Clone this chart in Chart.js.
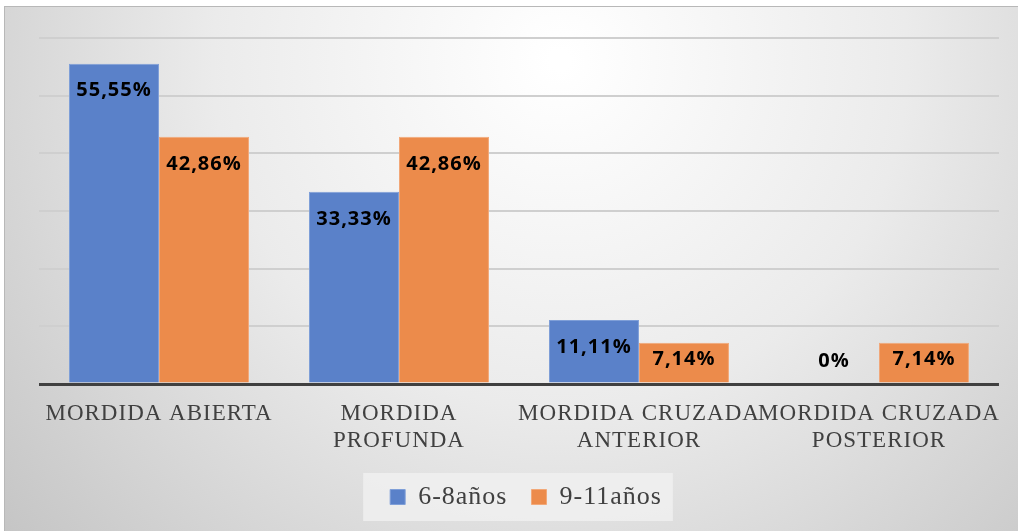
<!DOCTYPE html>
<html>
<head>
<meta charset="utf-8">
<script src="https://cdn.jsdelivr.net/npm/chart.js@4/dist/chart.umd.min.js"></script>
<style>
  html, body { margin: 0; padding: 0; background: #fff; }
  #wrap { width: 1018px; height: 531px; }
</style>
</head>
<body>
<div id="wrap"><canvas id="myBarChart" width="1018" height="531"></canvas></div>
<script>
var categories = [['MORDIDA ABIERTA'], ['MORDIDA', 'PROFUNDA'], ['MORDIDA CRUZADA', 'ANTERIOR'], ['MORDIDA CRUZADA', 'POSTERIOR']];
var seriesNames = ['6-8años', '9-11años'];
var young = [55.55, 33.33, 11.11, 0];
var older = [42.86, 42.86, 7.14, 7.14];
var yTicks = [0, 10, 20, 30, 40, 50, 60];

function fmt(v) {
  if (v === 0) return '0%';
  return v.toFixed(2).replace('.', ',') + '%';
}

// the original text looks a bit stretched, widen it a little
var spacing = {
  id: 'spacing',
  beforeLayout: function(chart) { chart.ctx.letterSpacing = '1px'; },
  beforeDraw: function(chart) { chart.ctx.letterSpacing = '1px'; },
  afterLayout: function(chart) {
    // legend sits a bit right of centre in the original
    var lg = chart.legend;
    lg.left += 6;
    lg.right += 6;
    lg.legendHitBoxes.forEach(function(b) { b.left += 6; });
  }
};

// gray gradient backdrop + legend box
var backdrop = {
  id: 'backdrop',
  beforeDraw: function(chart) {
    var ctx = chart.ctx;
    ctx.save();
    ctx.fillStyle = '#ffffff';
    ctx.fillRect(0, 0, chart.width, chart.height);
    var g = ctx.createRadialGradient(560, 60, 10, 560, 60, 760);
    g.addColorStop(0, '#ffffff');
    g.addColorStop(0.45, '#ebebeb');
    g.addColorStop(1, '#c2c2c2');
    ctx.fillStyle = g;
    ctx.fillRect(5, 7, chart.width - 5, chart.height - 7);
    ctx.strokeStyle = '#b8b8b8';
    ctx.lineWidth = 1;
    ctx.strokeRect(4.5, 6.5, chart.width, chart.height);
    var boxes = chart.legend.legendHitBoxes;
    if (boxes && boxes.length) {
      var first = boxes[0], last = boxes[boxes.length - 1];
      var cy = first.top + first.height / 2;
      ctx.fillStyle = 'rgba(240,240,240,0.85)';
      ctx.fillRect(first.left - 27, cy - 24, last.left + last.width - first.left + 38, 48);
    }
    ctx.restore();
  }
};

// value labels inside bar ends
var barLabels = {
  id: 'barLabels',
  afterDatasetsDraw: function(chart) {
    var ctx = chart.ctx;
    ctx.save();
    ctx.letterSpacing = '1px';
    ctx.font = 'bold 20px "Open Sans"';
    ctx.fillStyle = '#000';
    ctx.textAlign = 'center';
    ctx.textBaseline = 'middle';
    chart.data.datasets.forEach(function(ds, i) {
      chart.getDatasetMeta(i).data.forEach(function(bar, j) {
        var y = Math.min(bar.y + 27, bar.base - 23);
        ctx.fillText(fmt(ds.data[j]), bar.x, y);
      });
    });
    ctx.restore();
  }
};

var ctx = document.getElementById('myBarChart').getContext('2d');
var myBarChart = new Chart(ctx, {
  type: 'bar',
  data: {
    labels: categories,
    datasets: [{
      label: seriesNames[0],
      data: young,
      backgroundColor: '#5a81c9',
      borderColor: '#7f9fd8',
      borderWidth: 1
    },
    {
      label: seriesNames[1],
      data: older,
      backgroundColor: '#ec8b4b',
      borderColor: '#f2a878',
      borderWidth: 1
    }]
  },
  options: {
    responsive: false,
    animation: false,
    layout: { padding: { left: 39, right: 17, top: 38, bottom: 11 } },
    datasets: { bar: { categoryPercentage: 0.75, barPercentage: 1.0 } },
    scales: {
      x: {
        grid: { display: false, drawTicks: false },
        border: { display: false },
        afterFit: function(scale) { scale.height = 76; },
        ticks: {
          autoSkip: false,
          maxRotation: 0,
          padding: 16,
          color: '#404040',
          font: { family: '"Liberation Serif"', size: 23 }
        }
      },
      y: {
        min: yTicks[0],
        max: yTicks[yTicks.length - 1],
        afterBuildTicks: function(scale) {
          scale.ticks = yTicks.map(function(v) { return { value: v }; });
        },
        border: { display: false },
        ticks: { display: false },
        grid: {
          drawTicks: false,
          color: function(c) { return c.tick && c.tick.value === 0 ? '#404040' : '#cfcfcf'; },
          lineWidth: function(c) { return c.tick && c.tick.value === 0 ? 3 : 2; }
        }
      }
    },
    plugins: {
      legend: {
        position: 'bottom',
        labels: {
          boxWidth: 15,
          boxHeight: 15,
          padding: 24,
          color: '#404040',
          font: { family: '"Liberation Serif"', size: 26 }
        }
      },
      tooltip: { enabled: false }
    }
  },
  plugins: [spacing, backdrop, barLabels]
});
</script>
</body>
</html>
